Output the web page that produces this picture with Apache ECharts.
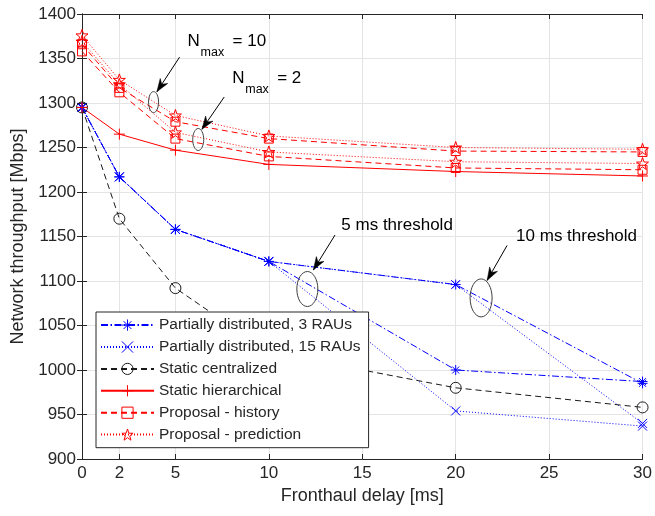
<!DOCTYPE html>
<html>
<head>
<meta charset="utf-8">
<script src="https://cdn.jsdelivr.net/npm/echarts@6/dist/echarts.min.js"></script>
<style>
  html, body { margin: 0; padding: 0; background: #fff; }
  #chart { width: 655px; height: 516px; }
</style>
</head>
<body>
<div id="chart"></div>
<script>
// Fronthaul delay values (ms) at which every scheme was evaluated
const delays = [0, 2, 5, 10, 20, 30];
const xTickValues = [0, 2, 5, 10, 15, 20, 25, 30];

// Network throughput (Mbps)
const partial3Raus10ms  = [1295, 1217, 1158, 1122, 1096, 985];
const partial3Raus5ms   = [1295, 1217, 1158, 1122, 1000, 987];
const partial15Raus10ms = [1295, 1217, 1158, 1122, 1096, 940];
const partial15Raus5ms  = [1295, 1217, 1158, 1122, 954, 937];
const staticCentralized  = [1295, 1170, 1092, 1020, 980, 958];
const staticHierarchical = [1295, 1265, 1247, 1231, 1223, 1218];
const historyNmax10    = [1366, 1317, 1279, 1260, 1246, 1245];
const historyNmax2     = [1358, 1312, 1260, 1240, 1227, 1225];
const predictionNmax10 = [1376, 1326, 1286, 1263, 1250, 1248];
const predictionNmax2  = [1369, 1321, 1267, 1245, 1234, 1232];

const legendNames = [
  'Partially distributed, 3 RAUs',
  'Partially distributed, 15 RAUs',
  'Static centralized',
  'Static hierarchical',
  'Proposal - history',
  'Proposal - prediction'
];

const FONT = "'Liberation Sans', Arial, Helvetica, sans-serif";
const INK = '#262626';
const BLUE = '#0000ff';
const RED = '#ff0000';
const BLACK = '#1a1a1a';

const DASH = [6, 4];
const DASHDOT = [7, 2.5, 1.5, 2.5];
const DOT = [1, 2];

// Marker outlines (stroked, unfilled)
const SYM = {
  asterisk: 'path://M0,-5L0,5M-5,0L5,0M-3.5,-3.5L3.5,3.5M-3.5,3.5L3.5,-3.5',
  cross: 'path://M-5,-5L5,5M-5,5L5,-5',
  plus: 'path://M0,-5L0,5M-5,0L5,0',
  circle: 'path://M-5,0A5,5 0 1,0 5,0A5,5 0 1,0 -5,0Z',
  square: 'path://M-5,-5L5,-5L5,5L-5,5Z',
  star: 'path://M0,-5L1.18,-1.62L4.76,-1.55L1.9,0.62L2.94,4.05L0,2L-2.94,4.05L-1.9,0.62L-4.76,-1.55L-1.18,-1.62Z'
};

function toPoints(values) {
  return delays.map((d, i) => [d, values[i]]);
}

function lineSeries(name, values, color, dash, symbol, size) {
  return {
    type: 'line',
    name: name,
    data: toPoints(values),
    symbol: symbol,
    symbolSize: size,
    showAllSymbol: true,
    lineStyle: { color: color, width: 1, type: dash },
    itemStyle: { color: 'none', borderColor: color, borderWidth: 1 },
    emphasis: { disabled: true },
    animation: false,
    z: 3
  };
}

const series = [
  lineSeries(legendNames[0], partial3Raus10ms, BLUE, DASHDOT, SYM.asterisk, 10),
  lineSeries(legendNames[0], partial3Raus5ms, BLUE, DASHDOT, SYM.asterisk, 10),
  lineSeries(legendNames[1], partial15Raus10ms, BLUE, DOT, SYM.cross, 9),
  lineSeries(legendNames[1], partial15Raus5ms, BLUE, DOT, SYM.cross, 9),
  lineSeries(legendNames[2], staticCentralized, BLACK, DASH, SYM.circle, 11),
  lineSeries(legendNames[3], staticHierarchical, RED, 'solid', SYM.plus, 11),
  lineSeries(legendNames[4], historyNmax10, RED, DASH, SYM.square, 9),
  lineSeries(legendNames[4], historyNmax2, RED, DASH, SYM.square, 9),
  lineSeries(legendNames[5], predictionNmax10, RED, DOT, SYM.star, 12),
  lineSeries(legendNames[5], predictionNmax2, RED, DOT, SYM.star, 12)
];

const tickStyle = { show: true, inside: true, length: 5, lineStyle: { color: INK, width: 1 } };
const axisLineStyle = { show: true, lineStyle: { color: INK, width: 1 } };
const gridLine = { show: true, lineStyle: { color: '#e4e4e4', width: 1 } };
const plainNumber = v => String(v);

const chart = echarts.init(document.getElementById('chart'), null, { renderer: 'canvas' });

chart.setOption({
  backgroundColor: '#ffffff',
  animation: false,
  textStyle: { fontFamily: FONT },
  grid: { left: 82, right: 8.5, top: 14, bottom: 57, containLabel: false },
  xAxis: [
    {
      type: 'value', min: 0, max: 30, position: 'bottom',
      name: 'Fronthaul delay [ms]', nameLocation: 'middle', nameGap: 22,
      nameTextStyle: { fontSize: 18, color: INK, fontFamily: FONT },
      axisLine: axisLineStyle,
      axisTick: Object.assign({ customValues: xTickValues }, tickStyle),
      axisLabel: { customValues: xTickValues, fontSize: 17, color: INK, margin: 6, fontFamily: FONT, formatter: plainNumber },
      splitLine: gridLine
    },
    {
      type: 'value', min: 0, max: 30, position: 'top',
      axisLine: axisLineStyle,
      axisTick: Object.assign({ customValues: xTickValues }, tickStyle),
      axisLabel: { show: false },
      splitLine: { show: false }
    }
  ],
  yAxis: [
    {
      type: 'value', min: 900, max: 1400, interval: 50, position: 'left',
      name: 'Network throughput [Mbps]', nameLocation: 'middle', nameGap: 53,
      nameTextStyle: { fontSize: 18, color: INK, fontFamily: FONT },
      axisLine: axisLineStyle,
      axisTick: tickStyle,
      axisLabel: { fontSize: 17, color: INK, margin: 6, fontFamily: FONT, formatter: plainNumber },
      splitLine: gridLine
    },
    {
      type: 'value', min: 900, max: 1400, interval: 50, position: 'right',
      axisLine: axisLineStyle,
      axisTick: tickStyle,
      axisLabel: { show: false },
      splitLine: { show: false }
    }
  ],
  legend: {
    data: legendNames,
    orient: 'vertical',
    left: 96, top: 312,
    itemWidth: 53, itemHeight: 14, itemGap: 5.7,
    padding: [5, 8, 5, 4],
    backgroundColor: '#ffffff',
    borderColor: INK, borderWidth: 1,
    textStyle: { fontSize: 15.5, color: INK, fontFamily: FONT },
    itemStyle: { borderWidth: 1 },
    selectedMode: false
  },
  series: series
});

// Callouts: ellipse around a group of curves, an arrow and a caption
const callouts = [
  { at: [3.83, 1301], rx: 5, ry: 10.5, tail: [26, -45], tip: [3.3, -10.3], text: [34, -61], main: 'N', sub: 'max', rest: '= 10' },
  { at: [6.22, 1259], rx: 5.5, ry: 11, tail: [26, -42.5], tip: [3.7, -10.2], text: [34, -61], main: 'N', sub: 'max', rest: '= 2' },
  { at: [12.06, 1091], rx: 10.5, ry: 17.5, tail: [27.7, -54], tip: [6, -19], text: [34, -64], main: '5 ms threshold' },
  { at: [21.36, 1081], rx: 11, ry: 19, tail: [26, -52.5], tip: [6, -17.5], text: [35, -61.5], main: '10 ms threshold' }
];

function arrowHead(tx, ty, fx, fy) {
  const dx = tx - fx, dy = ty - fy;
  const len = Math.hypot(dx, dy);
  const ux = dx / len, uy = dy / len;
  const px = -uy, py = ux;
  const L = 13, W = 4.5, N = 9;
  return [
    [tx, ty],
    [tx - ux * L + px * W, ty - uy * L + py * W],
    [tx - ux * N, ty - uy * N],
    [tx - ux * L - px * W, ty - uy * L - py * W]
  ];
}

const graphics = [];
callouts.forEach(c => {
  const p = chart.convertToPixel({ gridIndex: 0 }, c.at);
  const cx = p[0], cy = p[1];
  graphics.push({
    type: 'ellipse', shape: { cx: cx, cy: cy, rx: c.rx, ry: c.ry },
    style: { fill: 'none', stroke: '#404040', lineWidth: 1 }, z: 10
  });
  const x1 = cx + c.tail[0], y1 = cy + c.tail[1];
  const x2 = cx + c.tip[0], y2 = cy + c.tip[1];
  graphics.push({
    type: 'line', shape: { x1: x1, y1: y1, x2: x2, y2: y2 },
    style: { stroke: '#000', lineWidth: 1 }, z: 10
  });
  graphics.push({
    type: 'polygon', shape: { points: arrowHead(x2, y2, x1, y1) },
    style: { fill: '#000', stroke: '#000', lineWidth: 0.5 }, z: 10
  });
  const tx = cx + c.text[0], ty = cy + c.text[1];
  graphics.push({
    type: 'text', x: tx, y: ty, z: 10,
    style: { text: c.main, fontSize: 17, fontFamily: FONT, fill: '#000', verticalAlign: 'middle', align: 'left' }
  });
  if (c.sub) {
    graphics.push({
      type: 'text', x: tx + 13, y: ty + 11, z: 10,
      style: { text: c.sub, fontSize: 12.5, fontFamily: FONT, fill: '#000', verticalAlign: 'middle', align: 'left' }
    });
    graphics.push({
      type: 'text', x: tx + 45, y: ty, z: 10,
      style: { text: c.rest, fontSize: 17, fontFamily: FONT, fill: '#000', verticalAlign: 'middle', align: 'left' }
    });
  }
});

chart.setOption({ graphic: graphics });
</script>
</body>
</html>
